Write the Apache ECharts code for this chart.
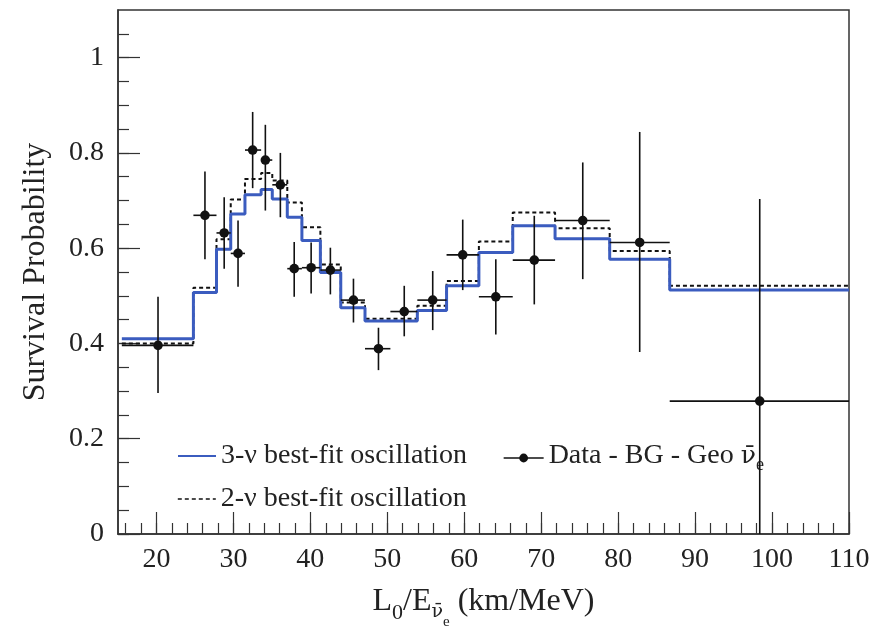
<!DOCTYPE html>
<html>
<head>
<meta charset="utf-8">
<script src="https://cdn.jsdelivr.net/npm/echarts@6/dist/echarts.min.js"></script>
<style>html,body{margin:0;padding:0;background:#fff}#c{width:875px;height:634px}</style>
</head>
<body>
<div id="c"></div>
<script>
// Bin edges in L0/E (km/MeV)
var binEdges = [15.5, 24.8, 27.8, 29.65, 31.5, 33.6, 35.05, 37.0, 38.9, 41.3, 43.95, 47.1, 50.4, 53.9, 57.7, 61.9, 66.3, 71.8, 78.9, 86.7, 110];
// 3-nu best-fit survival probability per bin
var fit3 = [0.410, 0.507, 0.598, 0.672, 0.712, 0.723, 0.703, 0.665, 0.616, 0.549, 0.475, 0.447, 0.447, 0.469, 0.521, 0.591, 0.647, 0.620, 0.577, 0.512];
// 2-nu best-fit survival probability per bin
var fit2 = [0.400, 0.517, 0.619, 0.702, 0.745, 0.758, 0.742, 0.696, 0.644, 0.566, 0.486, 0.452, 0.452, 0.479, 0.531, 0.614, 0.675, 0.642, 0.594, 0.521];
// Data - BG - Geo anti-nu_e
var dataX = [20.2, 26.3, 28.8, 30.6, 32.5, 34.15, 36.1, 37.9, 40.1, 42.6, 45.6, 48.85, 52.2, 55.9, 59.8, 64.1, 69.1, 75.4, 82.8, 98.4];
var dataY = [0.396, 0.669, 0.632, 0.589, 0.806, 0.785, 0.733, 0.557, 0.559, 0.554, 0.491, 0.389, 0.467, 0.491, 0.586, 0.498, 0.575, 0.658, 0.612, 0.279];
var dataYLow = [0.296, 0.577, 0.557, 0.519, 0.726, 0.679, 0.665, 0.498, 0.505, 0.503, 0.444, 0.344, 0.415, 0.428, 0.512, 0.419, 0.482, 0.535, 0.382, -0.15];
var dataYHigh = [0.498, 0.761, 0.707, 0.658, 0.886, 0.859, 0.800, 0.613, 0.612, 0.601, 0.536, 0.433, 0.521, 0.552, 0.660, 0.577, 0.668, 0.780, 0.844, 0.703];
// Tick labels
var xTickLabels = [20, 30, 40, 50, 60, 70, 80, 90, 100, 110];
var yTickLabels = [0, 0.2, 0.4, 0.6, 0.8, 1];
var xMinorTicks = [16,18,20,22,24,26,28,30,32,34,36,38,40,42,44,46,48,50,52,54,56,58,60,62,64,66,68,70,72,74,76,78,80,82,84,86,88,90,92,94,96,98,100,102,104,106,108,110];
var yMinorTicks = [0,0.05,0.1,0.15,0.2,0.25,0.3,0.35,0.4,0.45,0.5,0.55,0.6,0.65,0.7,0.75,0.8,0.85,0.9,0.95,1.0,1.05];

var FONT = 'Liberation Serif';
var MARKFONT = 'DejaVu Serif';
var BLUE = '#3b5cbf';
var INK = '#222';

function stepData(vals) {
  var out = [];
  for (var i = 0; i < vals.length; i++) out.push([binEdges[i], vals[i]]);
  out.push([binEdges[binEdges.length - 1], vals[vals.length - 1]]);
  return out;
}
var pts = [];
for (var i = 0; i < dataX.length; i++) {
  pts.push([dataX[i], dataY[i], binEdges[i], binEdges[i + 1], dataYLow[i], dataYHigh[i]]);
}

var chart = echarts.init(document.getElementById('c'), null, {renderer: 'canvas'});
var NAME3 = '3-ν best-fit oscillation';
var NAME2 = '2-ν best-fit oscillation';
var NAMED = 'Data - BG - Geo';
var NOSYM = {color: 'rgba(0,0,0,0)', borderWidth: 0};

chart.setOption({
  animation: false,
  backgroundColor: '#fff',
  textStyle: {fontFamily: FONT, color: INK},
  grid: {left: 118, right: 26, top: 10, bottom: 100, show: true, borderColor: '#333', borderWidth: 1.5,
         containLabel: false, outerBoundsMode: 'none'},
  legend: [
    {left: 172, top: 437, itemWidth: 38, itemHeight: 14, itemGap: 0, selectedMode: false,
     textStyle: {fontFamily: FONT, fontSize: 28, color: INK},
     data: [{name: NAME3, itemStyle: NOSYM, lineStyle: {width: 2}}]},
    {left: 172, top: 480, itemWidth: 38, itemHeight: 14, itemGap: 0, selectedMode: false,
     textStyle: {fontFamily: FONT, fontSize: 28, color: INK},
     data: [{name: NAME2, itemStyle: NOSYM, lineStyle: {width: 1.6}}]},
    {left: 498, top: 437, itemWidth: 40, itemHeight: 11, itemGap: 0, selectedMode: false,
     formatter: function () { return '{n|Data - BG - Geo }{m|ν̄}{s|e}'; },
     textStyle: {fontFamily: FONT, fontSize: 28, color: INK,
       rich: {n: {fontFamily: FONT, fontSize: 28, color: INK, verticalAlign: 'top'},
              m: {fontFamily: MARKFONT, fontSize: 25, color: INK, verticalAlign: 'top', padding: [2, 0, 0, 0]},
              s: {fontFamily: FONT, fontSize: 18, color: INK, verticalAlign: 'top', padding: [14, 0, 0, 0]}}},
     data: [{name: NAMED, lineStyle: {width: 1.3}}]}
  ],
  xAxis: [
    {type: 'value', min: 15, max: 110, gridIndex: 0,
     axisLine: {show: true, lineStyle: {color: '#333', width: 1.5}},
     axisTick: {show: true, inside: true, length: 22, customValues: xTickLabels, lineStyle: {color: '#333', width: 1.2}},
     axisLabel: {show: true, customValues: xTickLabels, margin: 12, fontFamily: FONT, fontSize: 28, color: INK},
     splitLine: {show: false},
     name: '{n|L}{s|0}{n|/E}{m|ν̄}{ss|e}{n| (km/MeV)}',
     nameLocation: 'middle', nameGap: 52,
     nameTextStyle: {fontFamily: FONT, fontSize: 32, color: INK,
       rich: {n: {fontFamily: FONT, fontSize: 32, color: INK, verticalAlign: 'top'},
              s: {fontFamily: FONT, fontSize: 22, color: INK, verticalAlign: 'top', padding: [16, 0, 0, 0]},
              m: {fontFamily: MARKFONT, fontSize: 19, color: INK, verticalAlign: 'top', padding: [17, 0, 0, 0]},
              ss: {fontFamily: FONT, fontSize: 15, color: INK, verticalAlign: 'top', padding: [29, 0, 0, 0]}}}},
    {type: 'value', min: 15, max: 110, gridIndex: 0,
     axisLine: {show: false},
     axisTick: {show: true, inside: true, length: 11, customValues: xMinorTicks, lineStyle: {color: '#333', width: 1.2}},
     axisLabel: {show: false}, splitLine: {show: false}, position: 'bottom'}
  ],
  yAxis: [
    {type: 'value', min: 0, max: 1.1, gridIndex: 0,
     axisLine: {show: true, lineStyle: {color: '#333', width: 1.5}},
     axisTick: {show: true, inside: true, length: 22, customValues: yTickLabels, lineStyle: {color: '#333', width: 1.2}},
     axisLabel: {show: true, customValues: yTickLabels, margin: 14, fontFamily: FONT, fontSize: 28, color: INK,
       formatter: function (v) { return (v === 0 || v === 1) ? String(v) : v.toFixed(1); }},
     splitLine: {show: false},
     name: 'Survival Probability', nameLocation: 'middle', nameGap: 66,
     nameTextStyle: {fontFamily: FONT, fontSize: 32, color: INK}},
    {type: 'value', min: 0, max: 1.1, gridIndex: 0, position: 'left',
     axisLine: {show: false},
     axisTick: {show: true, inside: true, length: 11, customValues: yMinorTicks, lineStyle: {color: '#333', width: 1.2}},
     axisLabel: {show: false}, splitLine: {show: false}}
  ],
  series: [
    {name: NAME2, type: 'line', step: 'end', xAxisIndex: 0, yAxisIndex: 0, symbol: 'none', z: 3,
     lineStyle: {color: '#111', width: 2, type: [4, 3]}, itemStyle: {color: '#111'},
     data: stepData(fit2)},
    {name: NAME3, type: 'line', step: 'end', xAxisIndex: 0, yAxisIndex: 0, symbol: 'none', z: 4,
     lineStyle: {color: BLUE, width: 3}, itemStyle: {color: BLUE},
     data: stepData(fit3)},
    // legend entry style for the data (line + dot marker); the marks are drawn by the custom series below
    {name: NAMED, type: 'line', xAxisIndex: 0, yAxisIndex: 0, symbol: 'circle', z: 1,
     lineStyle: {color: '#111', width: 1.3}, itemStyle: {color: '#111'}, data: []},
    {name: NAMED, type: 'custom', xAxisIndex: 0, yAxisIndex: 0, z: 5,
     itemStyle: {color: '#111'},
     encode: {x: 0, y: 1},
     renderItem: function (params, api) {
       var c = api.coord([api.value(0), api.value(1)]);
       var l = api.coord([api.value(2), api.value(1)]);
       var r = api.coord([api.value(3), api.value(1)]);
       var lo = api.coord([api.value(0), api.value(4)]);
       var hi = api.coord([api.value(0), api.value(5)]);
       var cs = params.coordSys;
       var bottom = cs.y + cs.height, top = cs.y;
       var yl = Math.min(lo[1], bottom), yh = Math.max(hi[1], top);
       var st = {stroke: '#111', lineWidth: 1.6};
       return {type: 'group', children: [
         {type: 'line', shape: {x1: l[0], y1: c[1], x2: r[0], y2: c[1]}, style: st},
         {type: 'line', shape: {x1: c[0], y1: yl, x2: c[0], y2: yh}, style: st},
         {type: 'circle', shape: {cx: c[0], cy: c[1], r: 4.8}, style: {fill: '#111'}}
       ]};
     },
     data: pts}
  ]
});
</script>
</body>
</html>
